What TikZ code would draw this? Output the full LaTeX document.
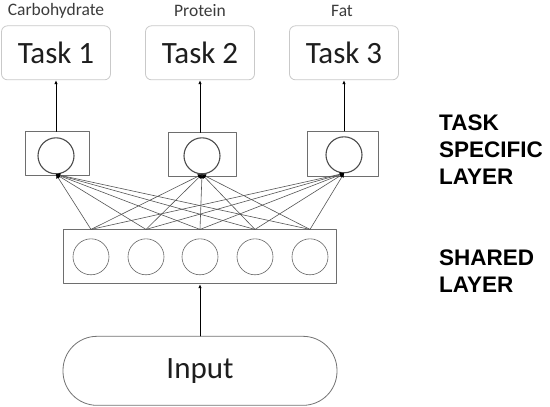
\documentclass[tikz,border=0pt]{standalone}
\usepackage{fontspec}
\setmainfont{Carlito}
\newfontfamily\headfont{Liberation Sans}
\usetikzlibrary{arrows.meta,calc,positioning}
\definecolor{nnInk}{HTML}{1E1E1E}
\definecolor{nnGrey}{HTML}{3C3C3C}
\definecolor{nnLine}{HTML}{555555}
\definecolor{nnFrame}{HTML}{6E6E6E}
\definecolor{nnSoft}{HTML}{C9C9C9}
\begin{document}
\begin{tikzpicture}[x=1pt,y=-1pt,>={Latex[length=4pt,width=3.5pt]},line cap=round,line join=round]
\path[fill=white] (0,0) rectangle (550,404);
\tikzset{taskbox/.style={draw=nnSoft,line width=0.8pt,rounded corners=6pt,minimum width=109pt,minimum height=54pt,text=nnInk,font=\fontsize{31}{33}\selectfont},
  tag/.style={text=nnGrey,font=\fontsize{17.5}{19}\selectfont},
  layerbox/.style={draw=nnFrame,line width=0.8pt,fill=white,inner sep=0pt},
  neuron/.style={circle,draw=black!60,line width=0.6pt,minimum size=36pt,inner sep=0pt},
  topneuron/.style={neuron,draw=black!70,line width=1.1pt},
  link/.style={draw=nnLine,line width=0.6pt,->,>={Latex[length=4pt,width=4.5pt,color=black]}},
  uparrow/.style={draw=black,line width=0.8pt,->},
  layertext/.style={anchor=north west,inner sep=0pt,align=left,text=black,font=\headfont\bfseries\fontsize{22.5}{27}\selectfont}}
% tasks and their outputs
\node[taskbox] (task1) at (56,50) {Task 1}; \node[taskbox] (task2) at (200,50) {Task 2}; \node[taskbox] (task3) at (344,50) {Task 3};
\node[tag] (carb) at (56,8) {Carbohydrate}; \node[tag] (prot) at (200,8) {Protein}; \node[tag] (fat) at (342,8) {Fat};
% task specific layer
\node[layerbox,minimum width=64pt,minimum height=44pt] (spec1) at (57,151) {}; \node[layerbox,minimum width=68pt,minimum height=44pt] (spec2) at (202,152) {}; \node[layerbox,minimum width=71pt,minimum height=45pt] (spec3) at (343,151) {};
\node[topneuron] (top1) at (56,153) {}; \node[topneuron] (top2) at (202,153) {}; \node[topneuron] (top3) at (344,152) {};
\draw[uparrow] (spec1.north -| task1) -- (task1.south); \draw[uparrow] (spec2.north -| task2) -- (task2.south); \draw[uparrow] (spec3.north -| task3) -- (task3.south);
% shared layer
\node[layerbox,minimum width=273pt,minimum height=54pt] (shared) at (200,254) {};
\node[neuron] (hid1) at (91,254) {}; \node[neuron] (hid2) at (146,254) {}; \node[neuron] (hid3) at (200,254) {}; \node[neuron] (hid4) at (255,254) {}; \node[neuron] (hid5) at (310,254) {};
\coordinate (out1) at (hid1 |- shared.north); \coordinate (out2) at (hid2 |- shared.north); \coordinate (out3) at (hid3 |- shared.north); \coordinate (out4) at (hid4 |- shared.north); \coordinate (out5) at (hid5 |- shared.north);
\draw[link] (out1) -- (top1.south); \draw[link] (out2) -- (top1.south); \draw[link] (out3) -- (top1.south); \draw[link] (out4) -- (top1.south); \draw[link] (out5) -- (top1.south);
\draw[link] (out1) -- (top2.south); \draw[link] (out2) -- (top2.south); \draw[link] (out3) -- (top2.south); \draw[link] (out4) -- (top2.south); \draw[link] (out5) -- (top2.south);
\draw[link] (out1) -- (top3.south); \draw[link] (out2) -- (top3.south); \draw[link] (out3) -- (top3.south); \draw[link] (out4) -- (top3.south); \draw[link] (out5) -- (top3.south);
% input
\node[draw=black!55,line width=0.8pt,rounded corners=34pt,minimum width=274pt,minimum height=69pt,text=nnInk,font=\fontsize{31}{33}\selectfont] (input) at (200,368) {Input};
\draw[uparrow] (input.north) -- (shared.south);
% layer names
\node[layertext] (specname) at (439,112) {TASK\\SPECIFIC\\LAYER};
\node[layertext] (sharedname) at (439,247) {SHARED\\LAYER};
\end{tikzpicture}
\end{document}
